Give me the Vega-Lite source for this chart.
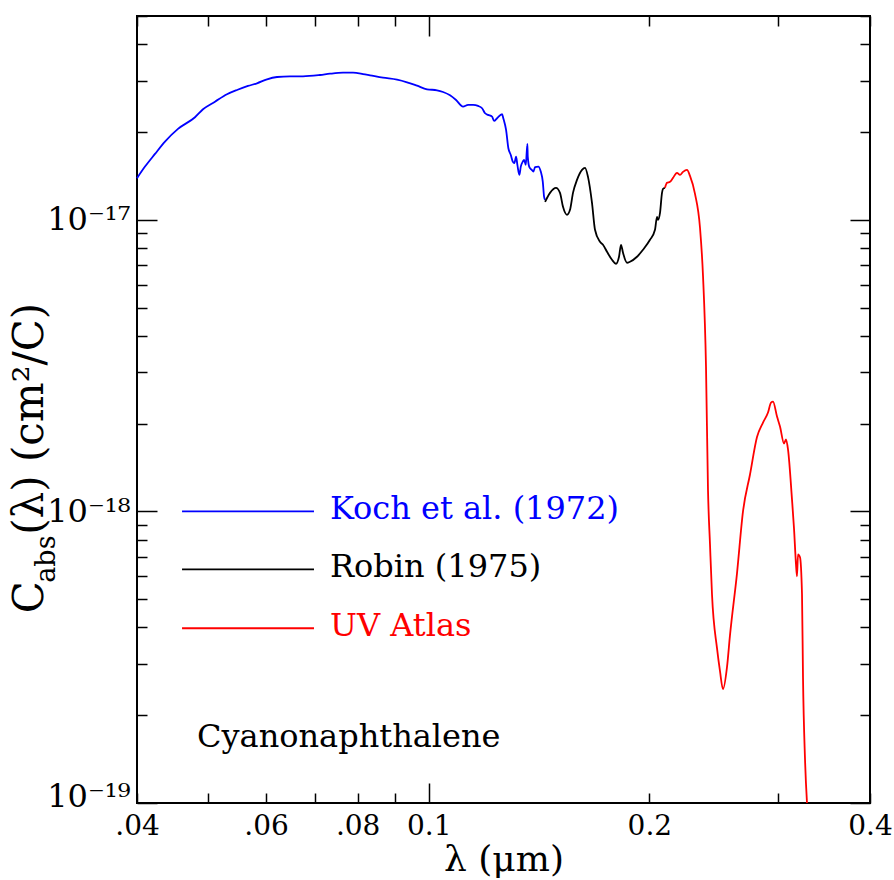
{
  "$schema": "https://vega.github.io/schema/vega-lite/v6.json",
  "width": 733,
  "height": 787,
  "autosize": {"type": "none"},
  "padding": {"left": 137, "top": 16, "right": 24, "bottom": 77},
  "background": "white",
  "config": {
    "view": {"stroke": "black", "strokeWidth": 2},
    "font": "DejaVu Serif"
  },
  "datasets": {
    "curves": [
      {"series": "Koch et al. (1972)", "lambda": 0.04, "cabs": 1.3894e-17},
      {"series": "Koch et al. (1972)", "lambda": 0.041018, "cabs": 1.5224e-17},
      {"series": "Koch et al. (1972)", "lambda": 0.042326, "cabs": 1.6827e-17},
      {"series": "Koch et al. (1972)", "lambda": 0.043676, "cabs": 1.8539e-17},
      {"series": "Koch et al. (1972)", "lambda": 0.045496, "cabs": 2.0497e-17},
      {"series": "Koch et al. (1972)", "lambda": 0.047994, "cabs": 2.2478e-17},
      {"series": "Koch et al. (1972)", "lambda": 0.049216, "cabs": 2.3942e-17},
      {"series": "Koch et al. (1972)", "lambda": 0.051106, "cabs": 2.5418e-17},
      {"series": "Koch et al. (1972)", "lambda": 0.053069, "cabs": 2.6945e-17},
      {"series": "Koch et al. (1972)", "lambda": 0.054762, "cabs": 2.788e-17},
      {"series": "Koch et al. (1972)", "lambda": 0.056688, "cabs": 2.8774e-17},
      {"series": "Koch et al. (1972)", "lambda": 0.058313, "cabs": 2.9393e-17},
      {"series": "Koch et al. (1972)", "lambda": 0.060175, "cabs": 3.0335e-17},
      {"series": "Koch et al. (1972)", "lambda": 0.062096, "cabs": 3.0889e-17},
      {"series": "Koch et al. (1972)", "lambda": 0.064683, "cabs": 3.106e-17},
      {"series": "Koch et al. (1972)", "lambda": 0.067377, "cabs": 3.106e-17},
      {"series": "Koch et al. (1972)", "lambda": 0.071074, "cabs": 3.138e-17},
      {"series": "Koch et al. (1972)", "lambda": 0.073345, "cabs": 3.1698e-17},
      {"series": "Koch et al. (1972)", "lambda": 0.076404, "cabs": 3.1949e-17},
      {"series": "Koch et al. (1972)", "lambda": 0.078845, "cabs": 3.1949e-17},
      {"series": "Koch et al. (1972)", "lambda": 0.081363, "cabs": 3.1623e-17},
      {"series": "Koch et al. (1972)", "lambda": 0.083172, "cabs": 3.1306e-17},
      {"series": "Koch et al. (1972)", "lambda": 0.086638, "cabs": 3.0719e-17},
      {"series": "Koch et al. (1972)", "lambda": 0.090534, "cabs": 3.0239e-17},
      {"series": "Koch et al. (1972)", "lambda": 0.093422, "cabs": 2.9625e-17},
      {"series": "Koch et al. (1972)", "lambda": 0.096406, "cabs": 2.8842e-17},
      {"series": "Koch et al. (1972)", "lambda": 0.099486, "cabs": 2.8034e-17},
      {"series": "Koch et al. (1972)", "lambda": 0.10266, "cabs": 2.7814e-17},
      {"series": "Koch et al. (1972)", "lambda": 0.10462, "cabs": 2.7443e-17},
      {"series": "Koch et al. (1972)", "lambda": 0.10694, "cabs": 2.6738e-17},
      {"series": "Koch et al. (1972)", "lambda": 0.10898, "cabs": 2.5761e-17},
      {"series": "Koch et al. (1972)", "lambda": 0.1114, "cabs": 2.4438e-17},
      {"series": "Koch et al. (1972)", "lambda": 0.11317, "cabs": 2.4768e-17},
      {"series": "Koch et al. (1972)", "lambda": 0.11496, "cabs": 2.4768e-17},
      {"series": "Koch et al. (1972)", "lambda": 0.11678, "cabs": 2.4573e-17},
      {"series": "Koch et al. (1972)", "lambda": 0.11826, "cabs": 2.4132e-17},
      {"series": "Koch et al. (1972)", "lambda": 0.11938, "cabs": 2.3202e-17},
      {"series": "Koch et al. (1972)", "lambda": 0.12051, "cabs": 2.2894e-17},
      {"series": "Koch et al. (1972)", "lambda": 0.12203, "cabs": 2.259e-17},
      {"series": "Koch et al. (1972)", "lambda": 0.1228, "cabs": 2.1832e-17},
      {"series": "Koch et al. (1972)", "lambda": 0.12396, "cabs": 2.2306e-17},
      {"series": "Koch et al. (1972)", "lambda": 0.12593, "cabs": 2.302e-17},
      {"series": "Koch et al. (1972)", "lambda": 0.12641, "cabs": 2.2306e-17},
      {"series": "Koch et al. (1972)", "lambda": 0.12752, "cabs": 2.0336e-17},
      {"series": "Koch et al. (1972)", "lambda": 0.12844, "cabs": 1.7601e-17},
      {"series": "Koch et al. (1972)", "lambda": 0.12942, "cabs": 1.6695e-17},
      {"series": "Koch et al. (1972)", "lambda": 0.13023, "cabs": 1.5836e-17},
      {"series": "Koch et al. (1972)", "lambda": 0.13089, "cabs": 1.5638e-17},
      {"series": "Koch et al. (1972)", "lambda": 0.13159, "cabs": 1.6473e-17},
      {"series": "Koch et al. (1972)", "lambda": 0.13213, "cabs": 1.5429e-17},
      {"series": "Koch et al. (1972)", "lambda": 0.13296, "cabs": 1.426e-17},
      {"series": "Koch et al. (1972)", "lambda": 0.13355, "cabs": 1.5224e-17},
      {"series": "Koch et al. (1972)", "lambda": 0.13439, "cabs": 1.5836e-17},
      {"series": "Koch et al. (1972)", "lambda": 0.13494, "cabs": 1.605e-17},
      {"series": "Koch et al. (1972)", "lambda": 0.13566, "cabs": 1.5429e-17},
      {"series": "Koch et al. (1972)", "lambda": 0.13634, "cabs": 1.8206e-17},
      {"series": "Koch et al. (1972)", "lambda": 0.13651, "cabs": 1.6473e-17},
      {"series": "Koch et al. (1972)", "lambda": 0.1372, "cabs": 1.5153e-17},
      {"series": "Koch et al. (1972)", "lambda": 0.13824, "cabs": 1.4833e-17},
      {"series": "Koch et al. (1972)", "lambda": 0.13894, "cabs": 1.4636e-17},
      {"series": "Koch et al. (1972)", "lambda": 0.13968, "cabs": 1.5153e-17},
      {"series": "Koch et al. (1972)", "lambda": 0.14114, "cabs": 1.5224e-17},
      {"series": "Koch et al. (1972)", "lambda": 0.1422, "cabs": 1.4636e-17},
      {"series": "Koch et al. (1972)", "lambda": 0.1431, "cabs": 1.3526e-17},
      {"series": "Koch et al. (1972)", "lambda": 0.14368, "cabs": 1.2017e-17},
      {"series": "Koch et al. (1972)", "lambda": 0.14414, "cabs": 1.1708e-17},
      {"series": "Robin (1975)", "lambda": 0.14414, "cabs": 1.1525e-17},
      {"series": "Robin (1975)", "lambda": 0.14639, "cabs": 1.2373e-17},
      {"series": "Robin (1975)", "lambda": 0.14917, "cabs": 1.2871e-17},
      {"series": "Robin (1975)", "lambda": 0.15106, "cabs": 1.2373e-17},
      {"series": "Robin (1975)", "lambda": 0.15249, "cabs": 1.108e-17},
      {"series": "Robin (1975)", "lambda": 0.15441, "cabs": 1.0402e-17},
      {"series": "Robin (1975)", "lambda": 0.15588, "cabs": 1.0821e-17},
      {"series": "Robin (1975)", "lambda": 0.15735, "cabs": 1.2373e-17},
      {"series": "Robin (1975)", "lambda": 0.15934, "cabs": 1.3708e-17},
      {"series": "Robin (1975)", "lambda": 0.16187, "cabs": 1.4833e-17},
      {"series": "Robin (1975)", "lambda": 0.1634, "cabs": 1.5069e-17},
      {"series": "Robin (1975)", "lambda": 0.16494, "cabs": 1.4037e-17},
      {"series": "Robin (1975)", "lambda": 0.16703, "cabs": 1.1434e-17},
      {"series": "Robin (1975)", "lambda": 0.16861, "cabs": 9.2415e-18},
      {"series": "Robin (1975)", "lambda": 0.17128, "cabs": 8.4058e-18},
      {"series": "Robin (1975)", "lambda": 0.1729, "cabs": 8.2093e-18},
      {"series": "Robin (1975)", "lambda": 0.17509, "cabs": 7.7696e-18},
      {"series": "Robin (1975)", "lambda": 0.17786, "cabs": 7.2948e-18},
      {"series": "Robin (1975)", "lambda": 0.18011, "cabs": 7.0685e-18},
      {"series": "Robin (1975)", "lambda": 0.18182, "cabs": 7.4694e-18},
      {"series": "Robin (1975)", "lambda": 0.18296, "cabs": 8.2093e-18},
      {"series": "Robin (1975)", "lambda": 0.18412, "cabs": 7.7086e-18},
      {"series": "Robin (1975)", "lambda": 0.18644, "cabs": 7.1241e-18},
      {"series": "Robin (1975)", "lambda": 0.18821, "cabs": 7.1804e-18},
      {"series": "Robin (1975)", "lambda": 0.19239, "cabs": 7.4694e-18},
      {"series": "Robin (1975)", "lambda": 0.19605, "cabs": 7.8932e-18},
      {"series": "Robin (1975)", "lambda": 0.20041, "cabs": 8.541e-18},
      {"series": "Robin (1975)", "lambda": 0.20358, "cabs": 9.2415e-18},
      {"series": "Robin (1975)", "lambda": 0.20487, "cabs": 1.0239e-17},
      {"series": "Robin (1975)", "lambda": 0.20551, "cabs": 1.0e-17},
      {"series": "Robin (1975)", "lambda": 0.20681, "cabs": 1.0567e-17},
      {"series": "Robin (1975)", "lambda": 0.20811, "cabs": 1.2373e-17},
      {"series": "Robin (1975)", "lambda": 0.20877, "cabs": 1.277e-17},
      {"series": "Robin (1975)", "lambda": 0.21008, "cabs": 1.2871e-17},
      {"series": "UV Atlas", "lambda": 0.21008, "cabs": 1.2871e-17},
      {"series": "UV Atlas", "lambda": 0.2114, "cabs": 1.3388e-17},
      {"series": "UV Atlas", "lambda": 0.21341, "cabs": 1.3494e-17},
      {"series": "UV Atlas", "lambda": 0.21543, "cabs": 1.3927e-17},
      {"series": "UV Atlas", "lambda": 0.21815, "cabs": 1.4486e-17},
      {"series": "UV Atlas", "lambda": 0.22022, "cabs": 1.426e-17},
      {"series": "UV Atlas", "lambda": 0.2223, "cabs": 1.4601e-17},
      {"series": "UV Atlas", "lambda": 0.22511, "cabs": 1.4833e-17},
      {"series": "UV Atlas", "lambda": 0.22724, "cabs": 1.4147e-17},
      {"series": "UV Atlas", "lambda": 0.23084, "cabs": 1.2276e-17},
      {"series": "UV Atlas", "lambda": 0.2345, "cabs": 9.3889e-18},
      {"series": "UV Atlas", "lambda": 0.23672, "cabs": 6.4309e-18},
      {"series": "UV Atlas", "lambda": 0.23896, "cabs": 3.1375e-18},
      {"series": "UV Atlas", "lambda": 0.24047, "cabs": 1.18e-18},
      {"series": "UV Atlas", "lambda": 0.24198, "cabs": 7.709e-19},
      {"series": "UV Atlas", "lambda": 0.2435, "cabs": 5.196e-19},
      {"series": "UV Atlas", "lambda": 0.24736, "cabs": 3.395e-19},
      {"series": "UV Atlas", "lambda": 0.2497, "cabs": 2.832e-19},
      {"series": "UV Atlas", "lambda": 0.25207, "cabs": 2.457e-19},
      {"series": "UV Atlas", "lambda": 0.25525, "cabs": 2.922e-19},
      {"series": "UV Atlas", "lambda": 0.25767, "cabs": 3.762e-19},
      {"series": "UV Atlas", "lambda": 0.2634, "cabs": 6.134e-19},
      {"series": "UV Atlas", "lambda": 0.26841, "cabs": 1.0e-18},
      {"series": "UV Atlas", "lambda": 0.27438, "cabs": 1.3386e-18},
      {"series": "UV Atlas", "lambda": 0.28048, "cabs": 1.7997e-18},
      {"series": "UV Atlas", "lambda": 0.28581, "cabs": 2.017e-18},
      {"series": "UV Atlas", "lambda": 0.29034, "cabs": 2.1835e-18},
      {"series": "UV Atlas", "lambda": 0.29309, "cabs": 2.3626e-18},
      {"series": "UV Atlas", "lambda": 0.29494, "cabs": 2.3813e-18},
      {"series": "UV Atlas", "lambda": 0.29867, "cabs": 2.1147e-18},
      {"series": "UV Atlas", "lambda": 0.3015, "cabs": 1.9548e-18},
      {"series": "UV Atlas", "lambda": 0.30531, "cabs": 1.7097e-18},
      {"series": "UV Atlas", "lambda": 0.30723, "cabs": 1.7645e-18},
      {"series": "UV Atlas", "lambda": 0.30917, "cabs": 1.6306e-18},
      {"series": "UV Atlas", "lambda": 0.31307, "cabs": 1.0993e-18},
      {"series": "UV Atlas", "lambda": 0.31505, "cabs": 8.744e-19},
      {"series": "UV Atlas", "lambda": 0.31703, "cabs": 6.584e-19},
      {"series": "UV Atlas", "lambda": 0.31803, "cabs": 5.99e-19},
      {"series": "UV Atlas", "lambda": 0.31903, "cabs": 7.124e-19},
      {"series": "UV Atlas", "lambda": 0.32104, "cabs": 6.958e-19},
      {"series": "UV Atlas", "lambda": 0.32307, "cabs": 5.196e-19},
      {"series": "UV Atlas", "lambda": 0.32408, "cabs": 2.701e-19},
      {"series": "UV Atlas", "lambda": 0.32613, "cabs": 1.415e-19},
      {"series": "UV Atlas", "lambda": 0.32818, "cabs": 1.0e-19}
    ],
    "legend": [
      {"series": "Koch et al. (1972)", "from": 0.046079, "to": 0.069746, "cabs": 1.0e-18},
      {"series": "Robin (1975)", "from": 0.046079, "to": 0.069746, "cabs": 6.33e-19},
      {"series": "UV Atlas", "from": 0.046079, "to": 0.069746, "cabs": 3.975e-19}
    ],
    "note": [
      {"text": "Cyanonaphthalene", "lambda": 0.048296, "cabs": 1.555e-19}
    ],
    "ytitle": [
      {"text": "C", "lambda": 0.029776, "cabs": 4.474e-19},
      {"text": "(λ) (cm²/C)", "lambda": 0.029776, "cabs": 8.315e-19}
    ],
    "ysub": [
      {"text": "abs", "lambda": 0.030919, "cabs": 5.694e-19}
    ]
  },
  "layer": [
    {
      "data": {"name": "curves"},
      "mark": {"type": "line", "strokeWidth": 1.8, "strokeJoin": "round", "interpolate": "monotone"},
      "encoding": {
        "x": {
          "field": "lambda", "type": "quantitative",
          "scale": {"type": "log", "domain": [0.04, 0.4], "nice": false},
          "axis": {
            "orient": "bottom",
            "values": [0.04, 0.05, 0.06, 0.07, 0.08, 0.09, 0.1, 0.2, 0.3, 0.4],
            "labelExpr": "datum.value==0.04?'.04':datum.value==0.06?'.06':datum.value==0.08?'.08':datum.value==0.1?'0.1':datum.value==0.2?'0.2':datum.value==0.4?'0.4':''",
            "labelFont": "DejaVu Serif", "labelFontSize": 28, "labelColor": "black",
            "labelBaseline": "top", "labelAlign": "center", "labelFlush": false, "labelOverlap": false,
            "labelPadding": {"condition": {"test": "datum.value==0.1", "value": 29}, "value": 19},
            "tickSize": {"condition": {"test": "datum.value==0.1", "value": -20}, "value": -10},
            "tickColor": "black", "tickWidth": 1.5, "domain": false, "grid": false,
            "title": "λ (μm)", "titleFont": "DejaVu Serif", "titleFontSize": 36, "titleFontWeight": "normal",
            "titleColor": "black", "titleBaseline": "alphabetic", "titleY": 67
          }
        },
        "y": {
          "field": "cabs", "type": "quantitative",
          "scale": {"type": "log", "domain": [1e-19, 5e-17], "nice": false},
          "axis": {
            "orient": "left",
            "values": [1e-19, 2e-19, 3e-19, 4e-19, 5e-19, 6e-19, 7e-19, 8e-19, 9e-19, 1e-18, 2e-18, 3e-18, 4e-18, 5e-18, 6e-18, 7e-18, 8e-18, 9e-18, 1e-17, 2e-17, 3e-17, 4e-17, 5e-17],
            "labelExpr": "datum.value==1e-19?'10⁻¹⁹':datum.value==1e-18?'10⁻¹⁸':datum.value==1e-17?'10⁻¹⁷':''",
            "labelFont": "DejaVu Serif", "labelFontSize": 32, "labelColor": "black",
            "labelBaseline": "middle", "labelAlign": "right", "labelFlush": false, "labelOverlap": false,
            "labelPadding": 27,
            "labelOffset": {"condition": {"test": "datum.value==1e-19", "value": -7}, "value": 0},
            "tickSize": {"condition": {"test": "datum.value==1e-19||datum.value==1e-18||datum.value==1e-17", "value": -20}, "value": -10},
            "tickColor": "black", "tickWidth": 1.5, "domain": false, "grid": false,
            "title": null
          }
        },
        "color": {
          "field": "series", "type": "nominal",
          "scale": {"domain": ["Koch et al. (1972)", "Robin (1975)", "UV Atlas"], "range": ["#0000ff", "#000000", "#ff0000"]},
          "legend": null
        }
      }
    },
    {
      "data": {"name": "curves"},
      "mark": {"type": "line", "strokeOpacity": 0},
      "encoding": {
        "x": {
          "field": "lambda", "type": "quantitative",
          "scale": {"type": "log", "domain": [0.04, 0.4], "nice": false},
          "axis": {
            "orient": "top",
            "values": [0.04, 0.05, 0.06, 0.07, 0.08, 0.09, 0.1, 0.2, 0.3, 0.4],
            "labels": false,
            "tickSize": {"condition": {"test": "datum.value==0.1", "value": -20}, "value": -10},
            "tickColor": "black", "tickWidth": 1.5, "domain": false, "grid": false, "title": null
          }
        },
        "y": {
          "field": "cabs", "type": "quantitative",
          "scale": {"type": "log", "domain": [1e-19, 5e-17], "nice": false},
          "axis": {
            "orient": "right",
            "values": [1e-19, 2e-19, 3e-19, 4e-19, 5e-19, 6e-19, 7e-19, 8e-19, 9e-19, 1e-18, 2e-18, 3e-18, 4e-18, 5e-18, 6e-18, 7e-18, 8e-18, 9e-18, 1e-17, 2e-17, 3e-17, 4e-17, 5e-17],
            "labels": false,
            "tickSize": {"condition": {"test": "datum.value==1e-19||datum.value==1e-18||datum.value==1e-17", "value": -20}, "value": -10},
            "tickColor": "black", "tickWidth": 1.5, "domain": false, "grid": false, "title": null
          }
        },
        "detail": {"field": "series", "type": "nominal"}
      }
    },
    {
      "data": {"name": "legend"},
      "mark": {"type": "rule", "strokeWidth": 1.8},
      "encoding": {
        "x": {"field": "from", "type": "quantitative", "scale": {"type": "log", "domain": [0.04, 0.4], "nice": false}, "axis": null},
        "x2": {"field": "to"},
        "y": {"field": "cabs", "type": "quantitative", "scale": {"type": "log", "domain": [1e-19, 5e-17], "nice": false}, "axis": null},
        "color": {"field": "series", "type": "nominal", "scale": {"domain": ["Koch et al. (1972)", "Robin (1975)", "UV Atlas"], "range": ["#0000ff", "#000000", "#ff0000"]}, "legend": null}
      }
    },
    {
      "data": {"name": "legend"},
      "mark": {"type": "text", "align": "left", "baseline": "alphabetic", "dx": 16, "dy": 8, "font": "DejaVu Serif", "fontSize": 32},
      "encoding": {
        "x": {"field": "to", "type": "quantitative", "scale": {"type": "log", "domain": [0.04, 0.4], "nice": false}, "axis": null},
        "y": {"field": "cabs", "type": "quantitative", "scale": {"type": "log", "domain": [1e-19, 5e-17], "nice": false}, "axis": null},
        "text": {"field": "series"},
        "color": {"field": "series", "type": "nominal", "scale": {"domain": ["Koch et al. (1972)", "Robin (1975)", "UV Atlas"], "range": ["#0000ff", "#000000", "#ff0000"]}, "legend": null}
      }
    },
    {
      "data": {"name": "note"},
      "mark": {"type": "text", "align": "left", "baseline": "alphabetic", "font": "DejaVu Serif", "fontSize": 32, "color": "black"},
      "encoding": {
        "x": {"field": "lambda", "type": "quantitative", "scale": {"type": "log", "domain": [0.04, 0.4], "nice": false}, "axis": null},
        "y": {"field": "cabs", "type": "quantitative", "scale": {"type": "log", "domain": [1e-19, 5e-17], "nice": false}, "axis": null},
        "text": {"field": "text"}
      }
    },
    {
      "data": {"name": "ytitle"},
      "mark": {"type": "text", "align": "left", "baseline": "alphabetic", "angle": 270, "font": "DejaVu Serif", "fontSize": 42, "color": "black"},
      "encoding": {
        "x": {"field": "lambda", "type": "quantitative", "scale": {"type": "log", "domain": [0.04, 0.4], "nice": false}, "axis": null},
        "y": {"field": "cabs", "type": "quantitative", "scale": {"type": "log", "domain": [1e-19, 5e-17], "nice": false}, "axis": null},
        "text": {"field": "text"}
      }
    },
    {
      "data": {"name": "ysub"},
      "mark": {"type": "text", "align": "left", "baseline": "alphabetic", "angle": 270, "font": "DejaVu Serif", "fontSize": 27, "color": "black"},
      "encoding": {
        "x": {"field": "lambda", "type": "quantitative", "scale": {"type": "log", "domain": [0.04, 0.4], "nice": false}, "axis": null},
        "y": {"field": "cabs", "type": "quantitative", "scale": {"type": "log", "domain": [1e-19, 5e-17], "nice": false}, "axis": null},
        "text": {"field": "text"}
      }
    }
  ],
  "resolve": {"axis": {"x": "independent", "y": "independent"}}
}
